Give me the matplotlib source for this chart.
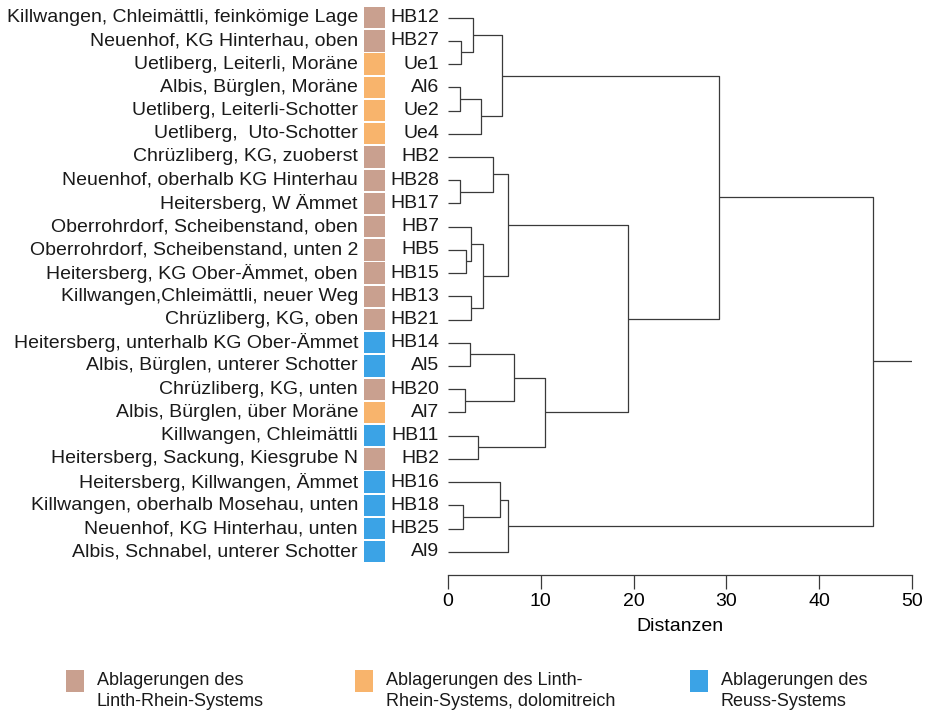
import matplotlib
matplotlib.use("Agg")
import matplotlib.pyplot as plt
from matplotlib import transforms
from matplotlib.patches import Rectangle

plt.rcParams['font.family'] = ['Liberation Sans', 'DejaVu Sans']

# leaves from top to bottom
names = [
    "Killwangen, Chleimättli, feinkömige Lage",
    "Neuenhof, KG Hinterhau, oben",
    "Uetliberg, Leiterli, Moräne",
    "Albis, Bürglen, Moräne",
    "Uetliberg, Leiterli-Schotter",
    "Uetliberg,  Uto-Schotter",
    "Chrüzliberg, KG, zuoberst",
    "Neuenhof, oberhalb KG Hinterhau",
    "Heitersberg, W Ämmet",
    "Oberrohrdorf, Scheibenstand, oben",
    "Oberrohrdorf, Scheibenstand, unten 2",
    "Heitersberg, KG Ober-Ämmet, oben",
    "Killwangen,Chleimättli, neuer Weg",
    "Chrüzliberg, KG, oben",
    "Heitersberg, unterhalb KG Ober-Ämmet",
    "Albis, Bürglen, unterer Schotter",
    "Chrüzliberg, KG, unten",
    "Albis, Bürglen, über Moräne",
    "Killwangen, Chleimättli",
    "Heitersberg, Sackung, Kiesgrube N",
    "Heitersberg, Killwangen, Ämmet",
    "Killwangen, oberhalb Mosehau, unten",
    "Neuenhof, KG Hinterhau, unten",
    "Albis, Schnabel, unterer Schotter",
]
codes = ["HB12", "HB27", "Ue1", "Al6", "Ue2", "Ue4", "HB2", "HB28", "HB17",
         "HB7", "HB5", "HB15", "HB13", "HB21", "HB14", "Al5", "HB20", "Al7",
         "HB11", "HB2", "HB16", "HB18", "HB25", "Al9"]
# 0 = Linth-Rhein, 1 = Linth-Rhein dolomitreich, 2 = Reuss
groups = [0, 0, 1, 1, 1, 1, 0, 0, 0, 0, 0, 0, 0, 0, 2, 2, 0, 1, 2, 0, 2, 2, 2, 2]

# merges: (child a, child b, distance); new clusters get ids 24, 25, ...
merges = [
    (1, 2, 1.4), (0, 24, 2.7), (3, 4, 1.3), (26, 5, 3.6), (25, 27, 5.8),
    (7, 8, 1.3), (6, 29, 4.8), (10, 11, 1.9), (9, 31, 2.5), (12, 13, 2.5),
    (32, 33, 3.8), (30, 34, 6.5), (14, 15, 2.4), (16, 17, 1.8), (36, 37, 7.1),
    (18, 19, 3.2), (38, 39, 10.5), (35, 40, 19.4), (28, 41, 29.2),
    (21, 22, 1.6), (20, 43, 5.6), (44, 23, 6.5), (42, 45, 45.8),
]
root_end = 50

group_colors = ["#c9a08f", "#f8b46c", "#3ba3e6"]
legend_labels = ["Ablagerungen des\nLinth-Rhein-Systems",
                 "Ablagerungen des Linth-\nRhein-Systems, dolomitreich",
                 "Ablagerungen des\nReuss-Systems"]

W, H = 926, 715
FS = 14
fig = plt.figure(figsize=(W / 100, H / 100), dpi=100)
ax = fig.add_axes([448 / W, 1 - 575 / H, (912 - 448) / W, (575 - 6) / H])

line_kw = dict(color="#3a3a3a", lw=0.9, solid_capstyle="butt")
pos = {i: (0.0, float(i)) for i in range(len(codes))}
for k, (a, b, h) in enumerate(merges):
    xa, ya = pos[a]
    xb, yb = pos[b]
    ax.plot([xa, h, h, xb], [ya, ya, yb, yb], **line_kw)
    pos[len(codes) + k] = (h, (ya + yb) / 2)
xr, yr = pos[len(codes) + len(merges) - 1]
ax.plot([xr, root_end], [yr, yr], **line_kw)

ax.set_xlim(0, 50)
ax.set_ylim(24.0, -0.5)
ax.set_xticks([0, 10, 20, 30, 40, 50])
ax.tick_params(axis="x", direction="out", length=10, width=0.9,
               labelsize=FS, pad=3, color="#3a3a3a")
ax.set_yticks([])
for s in ["top", "right", "left"]:
    ax.spines[s].set_visible(False)
ax.spines["bottom"].set_color("#3a3a3a")
ax.spines["bottom"].set_linewidth(0.9)
ax.set_xlabel("Distanzen", fontsize=FS, labelpad=6)

tr = transforms.blended_transform_factory(fig.transFigure, ax.transData)
for i, (n, c, g) in enumerate(zip(names, codes, groups)):
    ax.text(358 / W, i, n, transform=tr, ha="right", va="center",
            fontsize=FS, color="#1a1a1a", clip_on=False)
    ax.text(439 / W, i, c, transform=tr, ha="right", va="center",
            fontsize=FS, color="#1a1a1a", clip_on=False)
    ax.add_patch(Rectangle((364 / W, i - 0.46), 21 / W, 0.92, transform=tr,
                           facecolor=group_colors[g], edgecolor="none",
                           clip_on=False))

# legend along the bottom
for x0, col, lab in zip([66, 355, 690], group_colors, legend_labels):
    fig.patches.append(Rectangle((x0 / W, 1 - 692 / H), 18 / W, 22 / H,
                                 transform=fig.transFigure, facecolor=col,
                                 edgecolor="none"))
    fig.text((x0 + 31) / W, 1 - 691 / H, lab, ha="left", va="center",
             fontsize=13, color="#1a1a1a", linespacing=1.3)

fig.savefig("out.png", dpi=100)
